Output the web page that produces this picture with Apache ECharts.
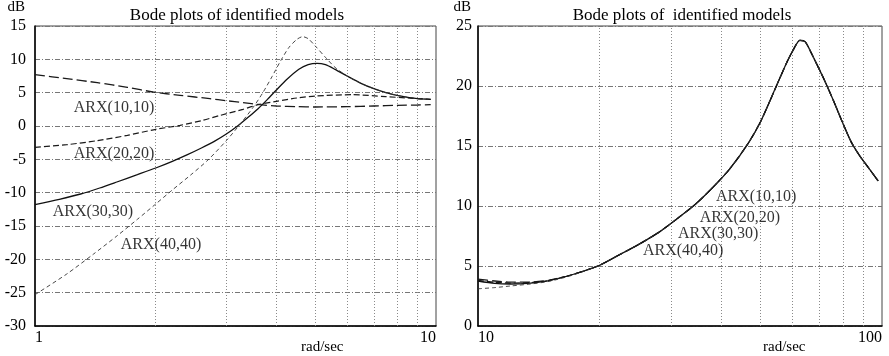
<!DOCTYPE html>
<html>
<head>
<meta charset="utf-8">
<script src="https://cdn.jsdelivr.net/npm/echarts@6/dist/echarts.min.js"></script>
<style>
  html, body { margin: 0; padding: 0; background: #fff; }
  #chart { width: 889px; height: 356px; }
</style>
</head>
<body>
<div id="chart"></div>
<script>
// ---- Left panel: 1 .. 10 rad/sec ----
const leftTitle = 'Bode plots of identified models';
const arx10L = [[1,7.7],[1.2,7.1],[1.43,6.5],[1.7,5.8],[1.97,5.1],[2.3,4.6],[2.73,4.1],[3,3.8],[3.3,3.5],[3.64,3.2],[4,3.0],[4.5,2.9],[5,2.85],[6,2.9],[7,3.0],[8,3.1],[9,3.15],[9.7,3.2]];
const arx20L = [[1,-3.2],[1.2,-2.8],[1.43,-2.2],[1.7,-1.4],[2,-0.5],[2.3,0.1],[2.6,0.8],[2.9,1.6],[3.3,2.5],[3.6,3.2],[4,3.7],[4.5,4.2],[5,4.5],[6.2,4.7],[7.5,4.4],[8.5,4.2],[9.7,4.0]];
const arx30L = [[1,-11.8],[1.15,-11.0],[1.3,-10.2],[1.45,-9.3],[1.6,-8.4],[1.8,-7.3],[2,-6.3],[2.2,-5.3],[2.4,-4.3],[2.6,-3.3],[2.8,-2.3],[3,-1.2],[3.2,0.0],[3.4,1.3],[3.6,2.6],[3.8,4.0],[4,5.4],[4.25,7.0],[4.55,8.5],[4.8,9.2],[5.05,9.4],[5.3,9.2],[5.6,8.5],[6,7.5],[6.5,6.4],[7,5.6],[7.5,5.0],[8,4.6],[8.5,4.3],[9,4.1],[9.7,4.0]];
const arx40L = [[1,-25.3],[1.2,-22.2],[1.4,-19.2],[1.6,-16.5],[1.8,-14.0],[2,-11.7],[2.2,-9.6],[2.45,-7.3],[2.7,-5.1],[3,-2.2],[3.25,0.3],[3.5,2.8],[3.7,5.0],[3.9,7.4],[4.1,9.8],[4.3,11.8],[4.5,13.0],[4.65,13.4],[4.8,13.1],[5,12.0],[5.3,10.3],[5.6,8.8],[6,7.5],[6.5,6.4],[7,5.6],[7.5,5.0],[8,4.6],[8.5,4.3],[9,4.1],[9.7,4.0]];
const leftLabelNames = ['ARX(10,10)','ARX(20,20)','ARX(30,30)','ARX(40,40)'];
const leftLabelPos = [[1.574,2.7],[1.574,-4.2],[1.395,-12.9],[2.062,-17.85]];
const leftMinorFreqs = [2,3,4,5,6,7,8,9];

// ---- Right panel: 10 .. 100 rad/sec ----
const rightTitle = 'Bode plots of  identified models';
const freqR = [10,11,12,13.5,15,17,19.8,22,25,28,31,34.4,38,42,46.6,50,54.3,58,60.5,62.6,64.5,66.5,69,72,76,80,84,88,93,97.8];
const arx10R = [3.9,3.75,3.65,3.66,3.82,4.25,5.0,5.8,6.8,7.8,8.9,10.1,11.5,13.1,15.2,17.0,19.7,21.9,23.1,23.8,23.7,22.9,21.8,20.5,18.7,16.9,15.3,14.2,13.1,12.1];
const arx20R = [3.8,3.65,3.58,3.62,3.8,4.25,5.0,5.8,6.8,7.8,8.9,10.1,11.5,13.1,15.2,17.0,19.7,21.9,23.1,23.8,23.7,22.9,21.8,20.5,18.7,16.9,15.3,14.2,13.1,12.1];
const arx30R = [3.75,3.55,3.5,3.58,3.78,4.25,5.0,5.8,6.8,7.8,8.9,10.1,11.5,13.1,15.2,17.0,19.7,21.9,23.1,23.8,23.7,22.9,21.8,20.5,18.7,16.9,15.3,14.2,13.1,12.1];
const arx40R = [3.1,3.2,3.33,3.5,3.72,4.2,5.0,5.8,6.8,7.8,8.9,10.1,11.5,13.1,15.2,17.0,19.7,21.9,23.1,23.8,23.7,22.9,21.8,20.5,18.7,16.9,15.3,14.2,13.1,12.1];
const rightLabelNames = ['ARX(10,10)','ARX(20,20)','ARX(30,30)','ARX(40,40)'];
const rightLabelPos = [[48.8,10.8],[44.5,9.0],[39.3,7.7],[32.2,6.25]];
const rightMinorFreqs = [20,30,40,50,60,70,80,90];

const SERIF = '"Liberation Serif", "DejaVu Serif", serif';
const INK = '#000';

// line styles for the four model orders
const styles = [
  { type: [10, 4], width: 1.3, color: '#1a1a1a' },   // (10,10) long dash
  { type: [6, 3], width: 1.2, color: '#1a1a1a' },    // (20,20) medium dash
  { type: 'solid', width: 1.3, color: '#111' },      // (30,30) solid
  { type: [4, 3], width: 0.9, color: '#333' }        // (40,40) short dash
];

function pairs(xs, ys) { return xs.map((x, i) => [x, ys[i]]); }

function curve(data, idx, gi, minor) {
  const s = {
    type: 'line', xAxisIndex: gi, yAxisIndex: gi, data: data,
    smooth: 0.25, showSymbol: false, symbol: 'none', silent: true,
    lineStyle: styles[idx], z: 3
  };
  if (minor) {
    // dotted grid lines at the intermediate decade frequencies
    s.markLine = {
      silent: true, symbol: 'none', animation: false, z: 1,
      label: { show: false },
      lineStyle: { color: '#8a8a8a', type: [1, 2], width: 1 },
      data: minor.map(f => ({ xAxis: f }))
    };
  }
  return s;
}

function labelSeries(names, pos, gi) {
  return {
    type: 'scatter', xAxisIndex: gi, yAxisIndex: gi, silent: true,
    symbolSize: 1, itemStyle: { color: 'rgba(0,0,0,0)' },
    data: pos.map((p, i) => ({ value: p, name: names[i] })),
    label: {
      show: true, position: 'inside', formatter: '{b}',
      fontFamily: SERIF, fontSize: 16, color: INK
    }
  };
}

function yAxis(gi, min, max, labelMargin, namePad) {
  return {
    type: 'value', gridIndex: gi, min: min, max: max, interval: 5,
    name: 'dB', nameLocation: 'end', nameGap: 11,
    nameTextStyle: { fontFamily: SERIF, fontSize: 15, color: INK, align: 'right', padding: [0, namePad, 0, 0] },
    axisLine: { show: true, onZero: false, lineStyle: { color: '#000', width: 1.5 } },
    axisTick: { show: false },
    axisLabel: { fontFamily: SERIF, fontSize: 16, color: INK, margin: labelMargin },
    splitLine: { show: true, lineStyle: { color: '#777', type: [5, 2, 1, 2], width: 1 } }
  };
}

function xAxis(gi, min, max) {
  return {
    type: 'log', logBase: 10, gridIndex: gi, min: min, max: max,
    axisLine: { show: true, onZero: false, lineStyle: { color: '#000', width: 1.6 } },
    axisTick: { show: false },
    axisLabel: {
      fontFamily: SERIF, fontSize: 16, color: INK, margin: 4,
      alignMinLabel: 'left', alignMaxLabel: 'right'
    },
    splitLine: { show: false }
  };
}

const chart = echarts.init(document.getElementById('chart'), null, { renderer: 'canvas' });
chart.setOption({
  animation: false,
  backgroundColor: '#fff',
  title: [
    { text: leftTitle, left: 232, top: 2, textAlign: 'center',
      textStyle: { fontFamily: SERIF, fontSize: 17, fontWeight: 'normal', color: INK } },
    { text: rightTitle, left: 677, top: 2, textAlign: 'center',
      textStyle: { fontFamily: SERIF, fontSize: 17, fontWeight: 'normal', color: INK } }
  ],
  grid: [
    { left: 35, top: 26, width: 401, height: 300, show: true, borderColor: '#444', borderWidth: 1 },
    { left: 478, top: 25, width: 404, height: 301, show: true, borderColor: '#444', borderWidth: 1 }
  ],
  xAxis: [xAxis(0, 1, 10), xAxis(1, 10, 100)],
  yAxis: [yAxis(0, -30, 15, 9, 10), yAxis(1, 0, 25, 6, 7)],
  graphic: [
    { type: 'text', left: 301, top: 340, style: { text: 'rad/sec', font: '15px ' + SERIF, fill: INK } },
    { type: 'text', left: 763, top: 340, style: { text: 'rad/sec', font: '15px ' + SERIF, fill: INK } }
  ],
  series: [
    curve(arx10L, 0, 0, leftMinorFreqs), curve(arx20L, 1, 0), curve(arx30L, 2, 0), curve(arx40L, 3, 0),
    curve(pairs(freqR, arx10R), 0, 1, rightMinorFreqs), curve(pairs(freqR, arx20R), 1, 1),
    curve(pairs(freqR, arx30R), 2, 1), curve(pairs(freqR, arx40R), 3, 1),
    labelSeries(leftLabelNames, leftLabelPos, 0),
    labelSeries(rightLabelNames, rightLabelPos, 1)
  ]
});
</script>
</body>
</html>
